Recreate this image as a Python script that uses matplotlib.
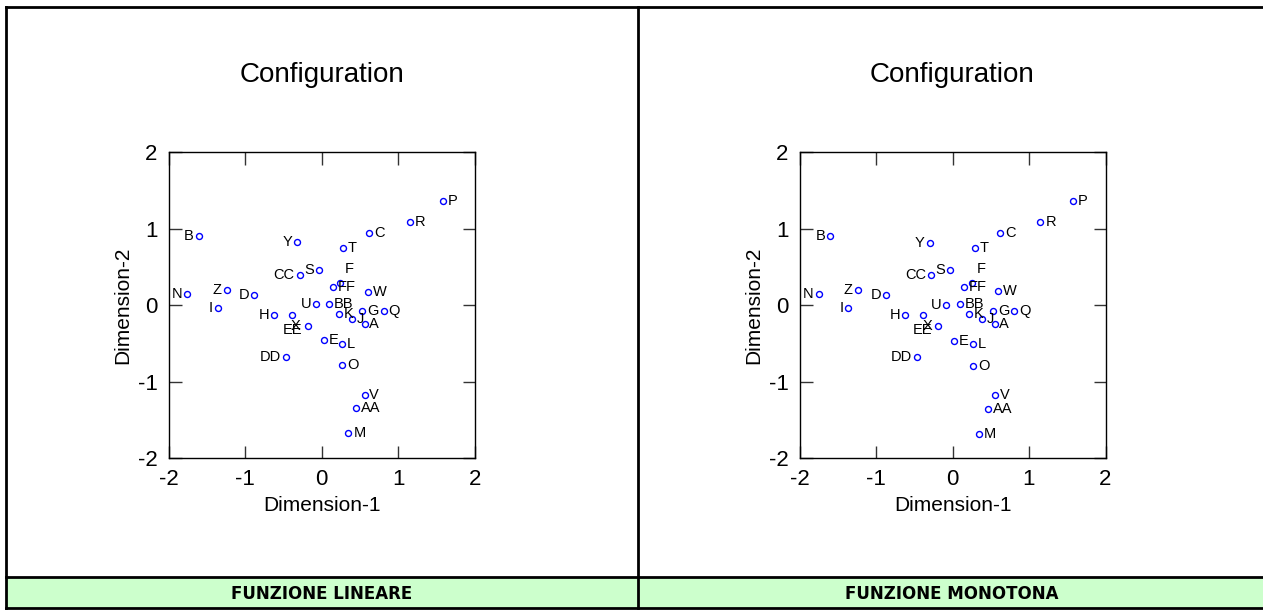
import matplotlib.pyplot as plt
from matplotlib.patches import Rectangle

plt.rcParams['font.family'] = ['Liberation Sans', 'DejaVu Sans']
plt.rcParams['axes.unicode_minus'] = False

# stimulus labels
names = ['A', 'B', 'C', 'D', 'E', 'F', 'G', 'H', 'I', 'J', 'K', 'L', 'M', 'N', 'O', 'P',
         'Q', 'R', 'S', 'T', 'U', 'V', 'W', 'X', 'Y', 'Z', 'AA', 'BB', 'CC', 'DD', 'EE', 'FF']

# MDS coordinates, linear transformation
lin_dim1 = [0.56, -1.61, 0.62, -0.88, 0.03, 0.24, 0.53, -0.62, -1.36, 0.40, 0.22, 0.27, 0.35, -1.76, 0.27, 1.58,
            0.81, 1.15, -0.04, 0.28, -0.07, 0.56, 0.60, -0.39, -0.32, -1.24, 0.45, 0.10, -0.29, -0.47, -0.18, 0.15]
lin_dim2 = [-0.25, 0.90, 0.94, 0.13, -0.46, 0.29, -0.07, -0.13, -0.04, -0.18, -0.11, -0.50, -1.67, 0.15, -0.78, 1.36,
            -0.07, 1.09, 0.46, 0.75, 0.02, -1.17, 0.17, -0.13, 0.83, 0.20, -1.34, 0.02, 0.39, -0.67, -0.27, 0.24]

# MDS coordinates, monotone transformation
mon_dim1 = [0.55, -1.60, 0.62, -0.87, 0.02, 0.25, 0.53, -0.62, -1.36, 0.39, 0.22, 0.27, 0.35, -1.75, 0.27, 1.58,
            0.81, 1.15, -0.03, 0.29, -0.08, 0.56, 0.59, -0.38, -0.30, -1.24, 0.46, 0.10, -0.28, -0.46, -0.19, 0.15]
mon_dim2 = [-0.24, 0.90, 0.94, 0.14, -0.47, 0.29, -0.08, -0.13, -0.03, -0.18, -0.11, -0.50, -1.68, 0.15, -0.79, 1.36,
            -0.08, 1.09, 0.46, 0.75, 0.01, -1.17, 0.19, -0.13, 0.82, 0.20, -1.35, 0.02, 0.39, -0.67, -0.27, 0.24]

panel_titles = ['FUNZIONE LINEARE', 'FUNZIONE MONOTONA']

# where each label sits relative to its point (offset in points, alignment)
left_side = {'B', 'Y', 'CC', 'N', 'Z', 'D', 'I', 'U', 'H', 'DD', 'S'}
special = {'X': ((3, -7.5), 'center'), 'EE': ((-4, -3), 'right'), 'F': ((3.5, 10), 'left')}


def label_style(name):
    if name in special:
        return special[name]
    if name in left_side:
        return (-3.5, 0), 'right'
    return (3.5, 0), 'left'


def draw_panel(ax, d1, d2):
    ax.plot(d1, d2, 'o', ls='none', mfc='none', mec='#0000FF', ms=4.3, mew=1)
    for n, x, y in zip(names, d1, d2):
        off, ha = label_style(n)
        ax.annotate(n, (x, y), xytext=off, textcoords='offset points',
                    ha=ha, va='center', fontsize=10.5)
    ax.set_xlim(-2, 2)
    ax.set_ylim(-2, 2)
    ax.set_xticks([-2, -1, 0, 1, 2])
    ax.set_yticks([-2, -1, 0, 1, 2])
    ax.tick_params(direction='in', length=9, width=1, top=True, right=True,
                   labelsize=16, pad=8, color='#333333')
    for s in ax.spines.values():
        s.set_linewidth(1)
    ax.set_xlabel('Dimension-1', fontsize=15, labelpad=4)
    ax.set_ylabel('Dimension-2', fontsize=15, labelpad=4)


fig = plt.figure(figsize=(12.63, 6.10), dpi=100)

# frame and bottom band, in pixel units
bg = fig.add_axes([0, 0, 1, 1], zorder=-1)
bg.set_xlim(0, 1263)
bg.set_ylim(610, 0)
bg.axis('off')
bg.add_patch(Rectangle((6, 577), 1257, 31, facecolor='#CCFFCC', edgecolor='none'))
bg.plot([6, 1263], [7, 7], color='black', lw=2)
bg.plot([6, 1263], [577, 577], color='black', lw=2)
bg.plot([6, 1263], [608, 608], color='black', lw=2)
bg.plot([6, 6], [7, 608], color='black', lw=2)
bg.plot([638, 638], [7, 608], color='black', lw=2)

ax1 = fig.add_axes([168.7 / 1263, 151.7 / 610, 306 / 1263, 306 / 610])
ax2 = fig.add_axes([799.5 / 1263, 151.7 / 610, 306 / 1263, 306 / 610])
draw_panel(ax1, lin_dim1, lin_dim2)
draw_panel(ax2, mon_dim1, mon_dim2)

for cx, t in zip([322, 952], panel_titles):
    bg.text(cx, 75, 'Configuration', ha='center', va='center', fontsize=20)
    bg.text(cx, 594, t, ha='center', va='center', fontsize=12,
            fontweight='bold', family='DejaVu Sans')

fig.savefig('out.png', dpi=100)
